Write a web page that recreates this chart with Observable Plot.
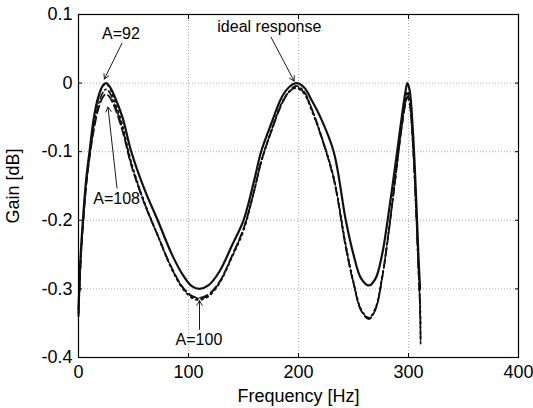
<!DOCTYPE html>
<html>
<head>
<meta charset="utf-8">
<script src="https://cdn.jsdelivr.net/npm/d3@7"></script>
<script src="https://cdn.jsdelivr.net/npm/@observablehq/plot@0.6"></script>
<style>
  html, body { margin: 0; padding: 0; background: #fff; }
  svg { font-family: "Liberation Sans", Arial, sans-serif; }
</style>
</head>
<body>
<div id="chart"></div>
<script>
// Frequency grid (Hz)
const freq = [0,2,4,7,10,14,18,22,25,28,33,40,48,60,72,85,95,103,110,118,128,140,150,160,166,175,185,192,198,205,212,220,232,243,250,257,264,270,276,281,288,293,297,299,301,304,307,309,310.5,311];

// Gain curves (dB)
const ideal = [-0.33,-0.25,-0.2,-0.14,-0.1,-0.05,-0.02,-0.004,0,-0.004,-0.02,-0.05,-0.1,-0.155,-0.2,-0.25,-0.28,-0.296,-0.3,-0.295,-0.275,-0.235,-0.2,-0.14,-0.1,-0.06,-0.02,-0.005,0,-0.006,-0.025,-0.05,-0.1,-0.2,-0.25,-0.285,-0.295,-0.285,-0.25,-0.2,-0.12,-0.06,-0.015,0,-0.01,-0.07,-0.17,-0.25,-0.30,null];
const a108 = [-0.34,-0.26,-0.21,-0.15,-0.11,-0.068,-0.038,-0.021,-0.016,-0.02,-0.036,-0.07,-0.12,-0.176,-0.222,-0.27,-0.298,-0.31,-0.313,-0.308,-0.29,-0.25,-0.212,-0.155,-0.115,-0.072,-0.03,-0.012,-0.006,-0.014,-0.038,-0.075,-0.14,-0.24,-0.292,-0.332,-0.344,-0.33,-0.285,-0.23,-0.14,-0.075,-0.032,-0.02,-0.03,-0.09,-0.19,-0.27,-0.33,-0.375];
const a92 = [-0.335,-0.255,-0.205,-0.145,-0.105,-0.055,-0.022,-0.004,-0.001,-0.006,-0.026,-0.062,-0.116,-0.174,-0.222,-0.272,-0.3,-0.313,-0.316,-0.311,-0.292,-0.252,-0.215,-0.155,-0.115,-0.07,-0.028,-0.012,-0.007,-0.015,-0.04,-0.074,-0.138,-0.236,-0.29,-0.33,-0.342,-0.328,-0.283,-0.228,-0.138,-0.072,-0.028,-0.012,-0.022,-0.085,-0.185,-0.265,-0.32,-0.35];
const a100 = [-0.34,-0.258,-0.208,-0.148,-0.108,-0.062,-0.032,-0.014,-0.009,-0.013,-0.032,-0.066,-0.118,-0.175,-0.222,-0.271,-0.299,-0.311,-0.314,-0.31,-0.291,-0.251,-0.213,-0.155,-0.115,-0.071,-0.029,-0.011,-0.004,-0.012,-0.037,-0.073,-0.138,-0.238,-0.291,-0.331,-0.343,-0.329,-0.284,-0.229,-0.139,-0.073,-0.03,-0.016,-0.026,-0.088,-0.188,-0.268,-0.325,-0.38];

// Axis ticks
const xTicks = [0,100,200,300,400];
const yTicks = [0.1,0,-0.1,-0.2,-0.3,-0.4];

// Annotations (data coordinates)
const labels = ["A=92","A=108","A=100","ideal response"];
const labelX = [38.6,34.7,109.5,173.5];
const labelY = [0.0715,-0.169,-0.375,0.0818];
const arrowX1 = [39.5,35,110,175];
const arrowY1 = [0.058,-0.153,-0.359,0.067];
const arrowX2 = [23.5,26.8,110,196];
const arrowY2 = [0.006,-0.035,-0.317,0.003];

const series = [
  {name:"ideal", values: ideal, dash: null, width: 2.2},
  {name:"A=108", values: a108, dash: "8,4", width: 1.7},
  {name:"A=92", values: a92, dash: "1.6,4", width: 1.9},
  {name:"A=100", values: a100, dash: "7,3,1.6,3", width: 1.6}
];
const rows = s => freq.map((f,i) => ({f, g: s.values[i]})).filter(d => d.g != null);
const ann = labels.map((t,i) => ({t, x: labelX[i], y: labelY[i], x1: arrowX1[i], y1: arrowY1[i], x2: arrowX2[i], y2: arrowY2[i]}));
const fmt = d => d === 0 ? "0" : (d < 0 ? "-" : "") + Math.abs(d).toFixed(1);

const chart = Plot.plot({
  width: 533,
  height: 408,
  marginLeft: 78,
  marginRight: 15,
  marginTop: 14,
  marginBottom: 51,
  style: {fontFamily: "Liberation Sans, Arial, sans-serif", background: "#fff", color: "#000"},
  x: {domain: [0,400]},
  y: {domain: [-0.4,0.1]},
  marks: [
    Plot.ruleX(xTicks.slice(1,-1), {stroke: "#999", strokeWidth: 0.8, strokeDasharray: "1,2"}),
    Plot.ruleY(yTicks.slice(1,-1), {stroke: "#999", strokeWidth: 0.8, strokeDasharray: "1,2"}),
    ...series.map(s => Plot.line(rows(s), {x: "f", y: "g", stroke: "#111", strokeWidth: s.width, strokeDasharray: s.dash, curve: "catmull-rom"})),
    Plot.axisX(xTicks, {anchor: "bottom", tickSize: 0, tickPadding: 8, fontSize: 18, tickFormat: d => String(d), label: "Frequency [Hz]", labelAnchor: "center", labelArrow: "none", labelOffset: 44}),
    Plot.axisY(yTicks, {anchor: "left", tickSize: 0, tickPadding: 6, fontSize: 18, tickFormat: fmt, label: "Gain [dB]", labelAnchor: "center", labelArrow: "none", labelOffset: 72}),
    Plot.axisX(xTicks, {anchor: "bottom", tickSize: -4, tickFormat: () => "", label: null}),
    Plot.axisX(xTicks, {anchor: "top", tickSize: -4, tickFormat: () => "", label: null}),
    Plot.axisY(yTicks, {anchor: "left", tickSize: -4, tickFormat: () => "", label: null}),
    Plot.axisY(yTicks, {anchor: "right", tickSize: -4, tickFormat: () => "", label: null}),
    Plot.frame({stroke: "#000", strokeWidth: 1.2}),
    Plot.arrow(ann, {x1: "x1", y1: "y1", x2: "x2", y2: "y2", stroke: "#000", strokeWidth: 0.9, headLength: 9}),
    Plot.text(ann, {x: "x", y: "y", text: "t", fontSize: 16, fill: "#000"})
  ]
});
document.getElementById("chart").appendChild(chart);
</script>
</body>
</html>
